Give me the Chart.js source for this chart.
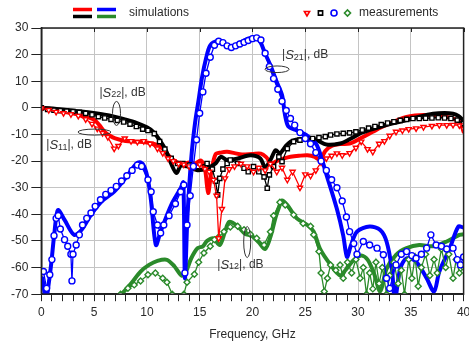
<!DOCTYPE html>
<html lang="en">
<head>
<meta charset="UTF-8">
<title>S-parameters: simulations vs measurements</title>
<script src="https://cdn.jsdelivr.net/npm/chart.js@4.4.1/dist/chart.umd.min.js"></script>
<style>
    body { margin: 0; background: #fff; }
    #wrap { width: 469px; height: 343px; }
</style>
</head>
<body>
<div id="wrap"><canvas id="chart" width="469" height="343"></canvas></div>
<script>
// ---- simulated curves (thick lines) ----
const s11SimFreq = [0, 1, 2, 3, 4, 5, 5.5, 6, 6.5, 7, 8, 9, 10, 11, 11.6, 12.2, 12.8, 13.4, 14, 14.6, 15.1, 15.5, 15.8, 16.1, 16.5, 17, 17.6, 18.3, 19, 20, 20.8, 21.3, 21.8, 22.4, 23, 23.6, 24.4, 25.2, 25.9, 26.4, 26.9, 27.5, 28.3, 29.2, 30.2, 31.4, 32.2, 33, 33.8, 34.6, 35.4, 36.2, 37.3, 38.4, 39.2, 39.7, 40];
const s11SimDb = [0, -0.5, -1.1, -1.9, -3, -4.5, -6.5, -9, -10.5, -11.5, -12.5, -12.7, -13, -14, -15.8, -18.5, -20.3, -21, -20.5, -20.9, -19.8, -23, -32, -24, -17.5, -16.8, -16.5, -17, -17.5, -17.3, -17.2, -18.5, -20.8, -19.8, -19, -18.4, -18, -17.8, -18.4, -19.6, -16.2, -14.3, -13.6, -13.4, -11.5, -9, -7.3, -5.9, -4.5, -3.4, -2.9, -2.7, -2.9, -3.4, -4.3, -5.5, -9];

const s22SimFreq = [0, 2, 4, 6, 7, 8, 9, 10, 10.6, 11.2, 11.8, 12.3, 12.8, 13.2, 13.8, 14.8, 15.7, 16.5, 17, 17.6, 18.6, 19.8, 20.75, 21.2, 21.7, 22.2, 22.6, 23.1, 23.6, 24.4, 25.2, 26.1, 27, 28.3, 29.2, 30.2, 31.2, 32.1, 33.3, 34.6, 35.8, 37.1, 38.2, 39, 39.5, 40];
const s22SimDb = [0, -0.6, -1.5, -2.6, -3.4, -4.4, -5.6, -7.3, -9, -12, -16, -21, -24.5, -21.8, -22, -23.4, -22.7, -20.9, -18.4, -19.6, -19, -17.8, -19, -22.5, -19.6, -15.9, -17.1, -14.6, -12.7, -11.8, -11.5, -12.1, -13.8, -13.4, -11.8, -9.6, -8.2, -7.1, -5.8, -4.6, -3.3, -2.2, -1.9, -2.2, -3, -4.8];

const s21SimFreq = [0.1, 0.45, 0.7, 0.95, 1.25, 1.57, 2.2, 3.1, 3.8, 4.7, 5.7, 6.9, 8.2, 9.0, 9.4, 9.75, 10.1, 10.4, 10.85, 11.3, 12.3, 13.2, 13.45, 13.6, 13.85, 14.2, 14.55, 14.9, 15.2, 15.6, 16, 16.7, 17.3, 17.9, 18.6, 19.5, 20.3, 20.75, 21.2, 21.7, 22.3, 22.8, 23.1, 23.4, 24.2, 25.2, 26.1, 27, 28, 28.6, 28.95, 29.3, 29.9, 31.1, 32.1, 32.7, 33.2, 33.5, 34, 34.6, 35.5, 36.5, 37.2, 37.7, 38.7, 39.5, 40];
const s21SimDb = [-64, -72, -66, -58, -46.5, -38.4, -42.1, -47.7, -45.9, -40.2, -35.2, -31.5, -25.2, -21, -20.5, -22, -27, -35.2, -51.5, -46.5, -36.5, -30.2, -28, -64, -40, -19, -6, 3, 11, 18.5, 23.5, 25, 24.1, 22.9, 24.1, 25.8, 26.6, 24.7, 20.4, 16, 9.7, 4.8, -3, -7, -8.5, -10.5, -14, -25, -38, -48, -56, -52, -46.5, -44.6, -45.9, -50.2, -60.3, -72, -60.3, -56.5, -57.8, -64, -69, -61.5, -52.7, -44.6, -45];

const s12SimFreq = [7.6, 8.5, 9.4, 10.2, 11, 11.9, 12.6, 13.3, 13.7, 14.2, 14.8, 15.3, 15.7, 16.3, 16.9, 17.4, 17.8, 18.6, 19.3, 19.9, 20.6, 21.2, 21.7, 22.2, 22.5, 22.8, 23.3, 24.2, 25.2, 25.8, 26.4, 27.4, 28.3, 28.8, 29.5, 30.3, 30.9, 31.5, 32.1, 32.7, 33.6, 34.6, 35.8, 37.1, 38.4, 39.6, 40];
const s12SimDb = [-70, -66, -61.5, -59, -57.5, -57.1, -59.5, -63, -61.5, -56.5, -52.7, -52, -50, -49, -51.5, -46.5, -42.8, -44.5, -47.3, -48, -50.5, -53, -48.5, -41, -37.5, -34.8, -36.5, -41.5, -44, -46.5, -53, -59, -63, -61, -57.5, -55.5, -57, -62, -69, -60.5, -55.2, -52.7, -51.5, -52, -50.2, -47.7, -47.5];

// ---- measured curves (thin lines with markers) ----
const s11MeasFreq = [0, 0.7, 1.4, 2.1, 2.8, 3.5, 4.2, 4.8, 5.3, 5.8, 6.3, 6.9, 7.3, 7.9, 8.5, 9.1, 9.7, 10.3, 11, 11.5, 12, 12.5, 13, 13.5, 14, 14.5, 15, 15.5, 15.9, 16.3, 16.6, 16.8, 17.1, 17.4, 17.8, 18.3, 18.9, 19.5, 20.1, 20.6, 21.2, 21.7, 22.3, 22.8, 23.3, 23.8, 24.5, 25, 25.5, 26, 26.5, 27, 27.5, 28, 28.5, 29.2, 29.8, 30.3, 30.9, 31.4, 32, 32.5, 33, 33.6, 34.2, 34.8, 35.5, 36.2, 37, 37.7, 38.4, 39, 39.6, 40];
const s11MeasDb = [-0.2, -0.8, -1.5, -2, -2.4, -3, -4.3, -6, -7.8, -9.5, -11, -15.3, -14.3, -11.5, -12.5, -12.8, -12.5, -13.5, -15.3, -17, -19, -20, -21, -21.3, -22, -22, -21.2, -23, -24, -27, -33, -49, -38, -26.5, -23, -22, -21, -22, -24, -22.5, -23.5, -21, -24, -22.5, -27, -24, -30, -25, -25.5, -23.5, -20.5, -19, -18, -17.1, -17.8, -17, -15, -12.7, -15.5, -16.5, -13.5, -12.5, -10.5, -9, -8.5, -8, -7.7, -7.2, -6.8, -6.5, -6.5, -6.4, -6.6, -8];

const s22MeasFreq = [0, 0.6, 1.2, 1.8, 2.4, 3, 3.6, 4.2, 4.8, 5.4, 6, 6.6, 7.2, 7.8, 8.4, 9, 9.6, 10.1, 10.7, 11.2, 11.7, 12.3, 12.9, 13.4, 14, 14.8, 15.7, 16.2, 16.5, 16.7, 16.9, 17.2, 17.6, 17.9, 18.6, 19.2, 19.6, 20.1, 20.6, 21.1, 21.4, 21.6, 22, 22.5, 22.8, 23.3, 23.9, 24.5, 25.1, 25.7, 26.3, 26.9, 27.4, 28, 28.6, 29.2, 29.8, 30.4, 31, 31.6, 32.2, 32.8, 33.4, 34, 34.6, 35.2, 35.8, 36.4, 37, 37.6, 38.2, 38.8, 39.4, 40];
const s22MeasDb = [0, -0.6, -0.9, -1.1, -1.2, -1.4, -1.7, -2.1, -2.6, -3.3, -3.8, -4.3, -4.7, -5.3, -6.1, -7, -8, -8.5, -9.7, -12.7, -15.5, -19, -20.9, -20.9, -21.5, -22.1, -20.9, -23, -27.5, -32.7, -26.5, -23, -20.9, -19.6, -20.9, -22.7, -24, -22.1, -24, -25.9, -30.2, -25.2, -22.1, -18.4, -20.2, -15.3, -12.7, -12.1, -11.8, -11.5, -11.2, -10.8, -10.2, -9.8, -9.6, -9.4, -9, -8.3, -7.6, -7, -6.3, -5.7, -5.2, -4.7, -4.3, -4, -4, -3.9, -3.8, -3.7, -3.8, -4, -4.6, -5.9];

const s21MeasFreq = [0.2, 0.5, 0.8, 1.0, 1.2, 1.4, 1.6, 1.8, 2.2, 2.5, 2.8, 2.9, 3.0, 3.3, 3.6, 3.9, 4.3, 4.7, 5.1, 5.6, 6.1, 6.6, 7.1, 7.6, 8.1, 8.6, 9.1, 9.5, 10.1, 10.4, 10.6, 11, 11.3, 11.6, 12.1, 12.7, 13.2, 13.5, 13.6, 13.8, 14.1, 14.4, 14.7, 15, 15.3, 15.6, 16, 16.4, 16.8, 17.2, 17.6, 18, 18.4, 18.8, 19.2, 19.6, 20, 20.4, 20.8, 21.2, 21.6, 22, 22.4, 22.8, 23.2, 23.6, 24, 24.5, 25, 25.5, 26, 26.5, 27, 27.5, 28, 28.5, 28.9, 29.2, 29.6, 29.9, 30.5, 31.1, 31.8, 32.4, 32.7, 33, 33.6, 34.1, 34.6, 35.1, 35.5, 36, 36.5, 36.9, 37.4, 37.9, 38.4, 39, 39.4, 39.7, 40];
const s21MeasDb = [-61.5, -67.8, -62.7, -57, -48, -41.5, -40.5, -45.5, -49.5, -52, -55, -65, -55, -51.5, -47.7, -44, -41.5, -39.5, -37, -34.5, -32.5, -31, -29.5, -27.5, -25.5, -23.5, -21.5, -22, -27, -31.5, -39, -44, -47, -44, -40.5, -36, -31.5, -29, -62, -44, -33, -22, -12, -2, 6, 13, 19, 23.5, 25, 24.5, 23.3, 22.7, 23.3, 24, 24.6, 25.3, 26, 26.3, 25.5, 20.5, 15.5, 11, 7, 2.5, -1, -4, -6.5, -9.3, -11.5, -13.5, -16.8, -20, -23.5, -27, -30, -35, -41, -46.5, -51, -55, -50.2, -51.5, -52.7, -55.2, -64, -67.8, -59, -55, -54, -55.5, -56.5, -55, -52.7, -47.7, -51.5, -52, -53, -52.7, -57, -59, -56];

const s12MeasFreq = [7.5, 8.2, 8.8, 9.4, 10.1, 10.8, 11.5, 11.9, 12.4, 13.5, 13.8, 14.5, 14.9, 15.4, 16, 16.4, 16.8, 17.3, 17.9, 18.6, 19.2, 19.8, 20.4, 21.1, 21.7, 22, 22.6, 23.1, 23.9, 24.8, 25.5, 25.8, 26.3, 26.5, 26.8, 27.1, 27.4, 27.9, 28.3, 28.6, 29, 29.4, 29.8, 30.2, 30.5, 30.8, 31.1, 31.4, 31.7, 32, 32.3, 32.7, 33, 33.4, 33.8, 34.1, 34.4, 34.8, 35.1, 35.4, 35.7, 36, 36.4, 36.8, 37.2, 37.5, 37.9, 38.3, 38.6, 39, 39.3, 39.6, 40];
const s12MeasDb = [-70, -67.8, -66.5, -65, -62.7, -62, -64, -65.5, -70, -70, -65.5, -62.5, -58, -54.5, -52, -49.5, -48.5, -46.5, -44.8, -44.5, -45.8, -47.5, -49, -51.5, -46.5, -40.5, -35.5, -36.5, -40.2, -43.4, -44.5, -47.7, -54, -62, -69, -64, -59, -61, -59, -64, -58, -62, -57, -64, -60, -70, -62, -68, -58, -66, -60, -70, -63, -58, -66, -61, -70, -57, -64, -56, -67, -60, -55, -63, -57, -62, -53, -60, -55, -64, -57, -62, -60];

const xTickLabels = [0, 5, 10, 15, 20, 25, 30, 35, 40];
const yTickLabels = [-70, -60, -50, -40, -30, -20, -10, 0, 10, 20, 30];

const RED = '#ff0000', BLUE = '#0000ff', BLACK = '#000000', GREEN = '#2a8a2a';
const FONT = "'Liberation Sans', Arial, sans-serif";
const TEXT = '#2a2a2a';

function pts(xs, ys) {
    return xs.map((x, i) => ({x: x, y: ys[i]}));
}

function simSet(xs, ys, color, order) {
    return {
        data: pts(xs, ys), borderColor: color, borderWidth: 4,
        pointRadius: 0, tension: 0.3, order: order,
        borderJoinStyle: 'round', borderCapStyle: 'round'
    };
}

function measSet(xs, ys, color, style, order, rot) {
    return {
        data: pts(xs, ys), borderColor: color, borderWidth: 1.3,
        pointStyle: style, pointRotation: rot || 0, pointRadius: 3,
        pointBorderColor: color, pointBackgroundColor: '#fff',
        pointBorderWidth: 1.4, tension: 0, order: order
    };
}

// labels |Sxy|, dB with their ellipses
const notes = [
    {sub: '22', tx: 5.5, ty: 5.6, ex: 7.12, ey: -2.1, rx: 4, ry: 12},
    {sub: '11', tx: 0.47, ty: -14, ex: 5.03, ey: -9.1, rx: 16.5, ry: 3},
    {sub: '21', tx: 22.8, ty: 19.8, ex: 22.33, ey: 14.5, rx: 12, ry: 3.3},
    {sub: '12', tx: 16.67, ty: -59, ex: 19.5, ey: -50.4, rx: 3.5, ry: 15.5}
];

const extras = {
    id: 'extras',
    afterDraw(chart) {
        const c = chart.ctx, a = chart.chartArea;
        const sx = chart.scales.x, sy = chart.scales.y;
        c.save();
        // frame
        c.strokeStyle = '#222';
        c.lineWidth = 1.5;
        c.strokeRect(a.left, a.top, a.right - a.left, a.bottom - a.top);
        // small ticks hanging from the top edge
        c.lineWidth = 1;
        xTickLabels.forEach(v => {
            const px = Math.round(sx.getPixelForValue(v)) + 0.5;
            c.beginPath(); c.moveTo(px, a.top); c.lineTo(px, a.top + 4); c.stroke();
        });

        // annotations
        c.fillStyle = '#333';
        c.strokeStyle = '#333';
        c.lineWidth = 1;
        c.textBaseline = 'middle';
        notes.forEach(n => {
            let x = sx.getPixelForValue(n.tx);
            const y = sy.getPixelForValue(n.ty);
            c.font = '12px ' + FONT;
            c.fillText('|', x, y); x += c.measureText('|').width;
            c.font = 'italic 13px ' + FONT;
            c.fillText('S', x, y); x += c.measureText('S').width;
            c.font = '9px ' + FONT;
            c.fillText(n.sub, x, y + 2); x += c.measureText(n.sub).width;
            c.font = '12px ' + FONT;
            c.fillText('|, dB', x, y);
            c.beginPath();
            c.ellipse(sx.getPixelForValue(n.ex), sy.getPixelForValue(n.ey), n.rx, n.ry, 0, 0, Math.PI * 2);
            c.stroke();
        });

        // legend row
        const ly = 13;
        c.lineCap = 'butt';
        c.lineWidth = 3.5;
        [[73, ly - 3.5, RED], [73, ly + 3.5, BLACK], [97, ly - 3.5, BLUE], [97, ly + 3.5, GREEN]].forEach(s => {
            c.strokeStyle = s[2];
            c.beginPath(); c.moveTo(s[0], s[1]); c.lineTo(s[0] + 19, s[1]); c.stroke();
        });
        c.font = '12px ' + FONT;
        c.fillStyle = TEXT;
        c.textBaseline = 'middle';
        c.fillText('simulations', 129, ly);
        c.fillText('measurements', 359, ly);
        const marks = [['triangle', RED, 180], ['rect', BLACK, 0], ['circle', BLUE, 0], ['rectRot', GREEN, 0]];
        marks.forEach((m, i) => {
            c.strokeStyle = m[1];
            c.fillStyle = '#fff';
            c.lineWidth = 1.6;
            Chart.helpers.drawPoint(c, {pointStyle: m[0], radius: 3, rotation: m[2], borderWidth: 1.6}, 307 + i * 13.5, ly);
        });
        c.restore();
    }
};

new Chart(document.getElementById('chart'), {
    type: 'line',
    data: {
        datasets: [
            measSet(s21MeasFreq, s21MeasDb, BLUE, 'circle', 1),
            measSet(s11MeasFreq, s11MeasDb, RED, 'triangle', 2, 180),
            measSet(s22MeasFreq, s22MeasDb, BLACK, 'rect', 3),
            measSet(s12MeasFreq, s12MeasDb, GREEN, 'rectRot', 4),
            simSet(s21SimFreq, s21SimDb, BLUE, 5),
            simSet(s22SimFreq, s22SimDb, BLACK, 6),
            simSet(s11SimFreq, s11SimDb, RED, 7),
            simSet(s12SimFreq, s12SimDb, GREEN, 8)
        ]
    },
    options: {
        responsive: false,
        animation: false,
        events: [],
        layout: {padding: {top: 28, right: 5, left: 8, bottom: 1}},
        plugins: {legend: {display: false}, tooltip: {enabled: false}},
        scales: {
            x: {
                type: 'linear', min: 0, max: 40,
                afterBuildTicks: axis => {
                    axis.ticks = [];
                    for (let v = 0; v <= 40; v++) axis.ticks.push({value: v});
                },
                afterFit: axis => { axis.paddingRight = 0; },
                ticks: {
                    autoSkip: false, maxRotation: 0, padding: 4, color: TEXT,
                    font: {family: FONT, size: 12},
                    callback: v => xTickLabels.includes(v) ? String(v) : ''
                },
                grid: {
                    color: c => (c.tick && xTickLabels.includes(c.tick.value)) ? '#c4c4c4' : 'rgba(0,0,0,0)',
                    tickColor: '#222', tickLength: 7, lineWidth: 1
                },
                border: {color: '#222', width: 1.5},
                title: {
                    display: true, text: 'Frequency, GHz', color: TEXT,
                    font: {family: FONT, size: 12}, padding: {top: 4, bottom: 0}
                }
            },
            y: {
                min: -70, max: 30,
                afterBuildTicks: axis => {
                    axis.ticks = yTickLabels.map(v => ({value: v}));
                },
                ticks: {color: TEXT, padding: 3, font: {family: FONT, size: 12}},
                grid: {color: '#c4c4c4', tickColor: '#222', tickLength: 10, lineWidth: 1},
                border: {color: '#222', width: 1.5}
            }
        }
    },
    plugins: [extras]
});
</script>
</body>
</html>
